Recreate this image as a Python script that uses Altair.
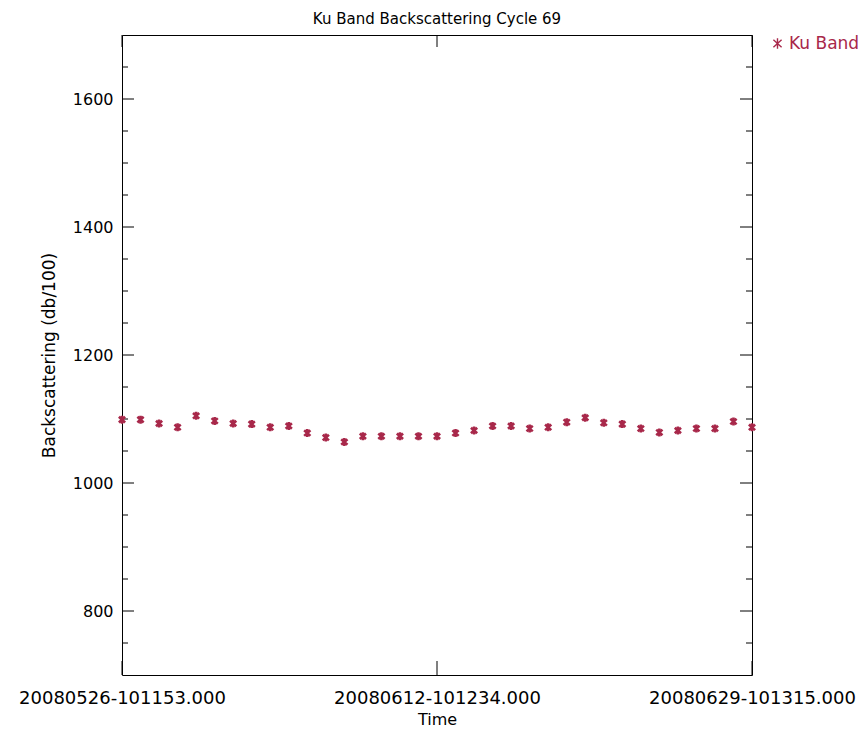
import altair as alt
import pandas as pd

# ---- data ----
days = list(range(35))
backscatter = [1099, 1099, 1093, 1087, 1105, 1097, 1093, 1092, 1087, 1089,
               1078, 1071, 1064, 1073, 1073, 1073, 1073, 1073, 1078, 1082,
               1089, 1089, 1085, 1087, 1095, 1102, 1094, 1092, 1085, 1079,
               1082, 1085, 1085, 1096, 1087]
x_tick_days = [0, 17, 34]
x_tick_labels = ["20080526-101153.000", "20080612-101234.000", "20080629-101315.000"]
y_label_values = [800, 1000, 1200, 1400, 1600]
y_minor_values = [750, 850, 900, 950, 1050, 1100, 1150, 1250, 1300, 1350,
                  1450, 1500, 1550, 1650]
series_name = "Ku Band"
title_text = "Ku Band Backscattering Cycle 69"

COLOR = "#A8284A"
FONT = "DejaVu Sans"
W, H = 630, 640
ASTERISK = "M0,-1L0,1M-0.78,-0.7L0.78,0.7M-0.78,0.7L0.78,-0.7"

df = pd.DataFrame({"day": days, "value": backscatter, "series": series_name})

xscale = alt.Scale(domain=[0, 34], nice=False, zero=False)
yscale = alt.Scale(domain=[700, 1700], nice=False, zero=False)

label_expr = "[" + ",".join("'%s'" % s for s in x_tick_labels) + "][indexof([" + \
    ",".join(str(v) for v in x_tick_days) + "], datum.value)]"

points = alt.Chart(df).mark_point(
    shape=ASTERISK, filled=False, strokeWidth=2.6, size=64, opacity=1
).encode(
    x=alt.X("day:Q", scale=xscale, axis=alt.Axis(
        values=x_tick_days, labelExpr=label_expr, title="Time",
        ticks=False, domain=False, grid=False, labelFlush=False, labelOverlap=False,
        labelLimit=0, labelFontSize=18, labelPadding=14, titleFontSize=16,
        titlePadding=4, labelFont=FONT, titleFont=FONT, labelColor="black",
        titleColor="black", titleFontWeight="normal")),
    y=alt.Y("value:Q", scale=yscale, axis=alt.Axis(
        values=y_label_values, format="d", title="Backscattering (db/100)",
        ticks=False, domain=False, grid=False, labelFontSize=16, labelPadding=9,
        titleFontSize=17, titlePadding=14, labelFont=FONT, titleFont=FONT,
        labelColor="black", titleColor="black", titleFontWeight="normal")),
    color=alt.Color("series:N", scale=alt.Scale(range=[COLOR]), legend=alt.Legend(
        title=None, orient="none", legendX=647, legendY=0, symbolType=ASTERISK,
        symbolSize=110, symbolStrokeWidth=1.4, labelFontSize=17, labelColor=COLOR,
        labelFont=FONT, padding=0, labelOffset=3, labelLimit=0)),
)

ymaj = pd.DataFrame({"value": y_label_values})
ymin = pd.DataFrame({"value": y_minor_values})
xmaj = pd.DataFrame({"day": x_tick_days})

def yticks(data, length):
    left = alt.Chart(data).mark_rule(color="black", strokeWidth=1).encode(
        y=alt.Y("value:Q", scale=yscale), x=alt.value(0), x2=alt.value(length))
    right = alt.Chart(data).mark_rule(color="black", strokeWidth=1).encode(
        y=alt.Y("value:Q", scale=yscale), x=alt.value(W - length), x2=alt.value(W))
    return [left, right]

xtop = alt.Chart(xmaj).mark_rule(color="black", strokeWidth=1).encode(
    x=alt.X("day:Q", scale=xscale), y=alt.value(0), y2=alt.value(12))
xbot = alt.Chart(xmaj).mark_rule(color="black", strokeWidth=1).encode(
    x=alt.X("day:Q", scale=xscale), y=alt.value(H - 14), y2=alt.value(H))

chart = alt.layer(
    *yticks(ymaj, 12), *yticks(ymin, 6), xtop, xbot, points
).properties(
    width=W, height=H,
    title=alt.Title(title_text, fontSize=15, font=FONT, fontWeight="normal",
                    color="black", anchor="middle", offset=8),
    autosize=alt.AutoSizeParams(type="none"),
    padding={"left": 114, "top": 27, "right": 107, "bottom": 56},
    background="white",
).configure_view(stroke="black", strokeWidth=1)

chart.save("out.html", embed_options={"renderer": "svg", "actions": False})
